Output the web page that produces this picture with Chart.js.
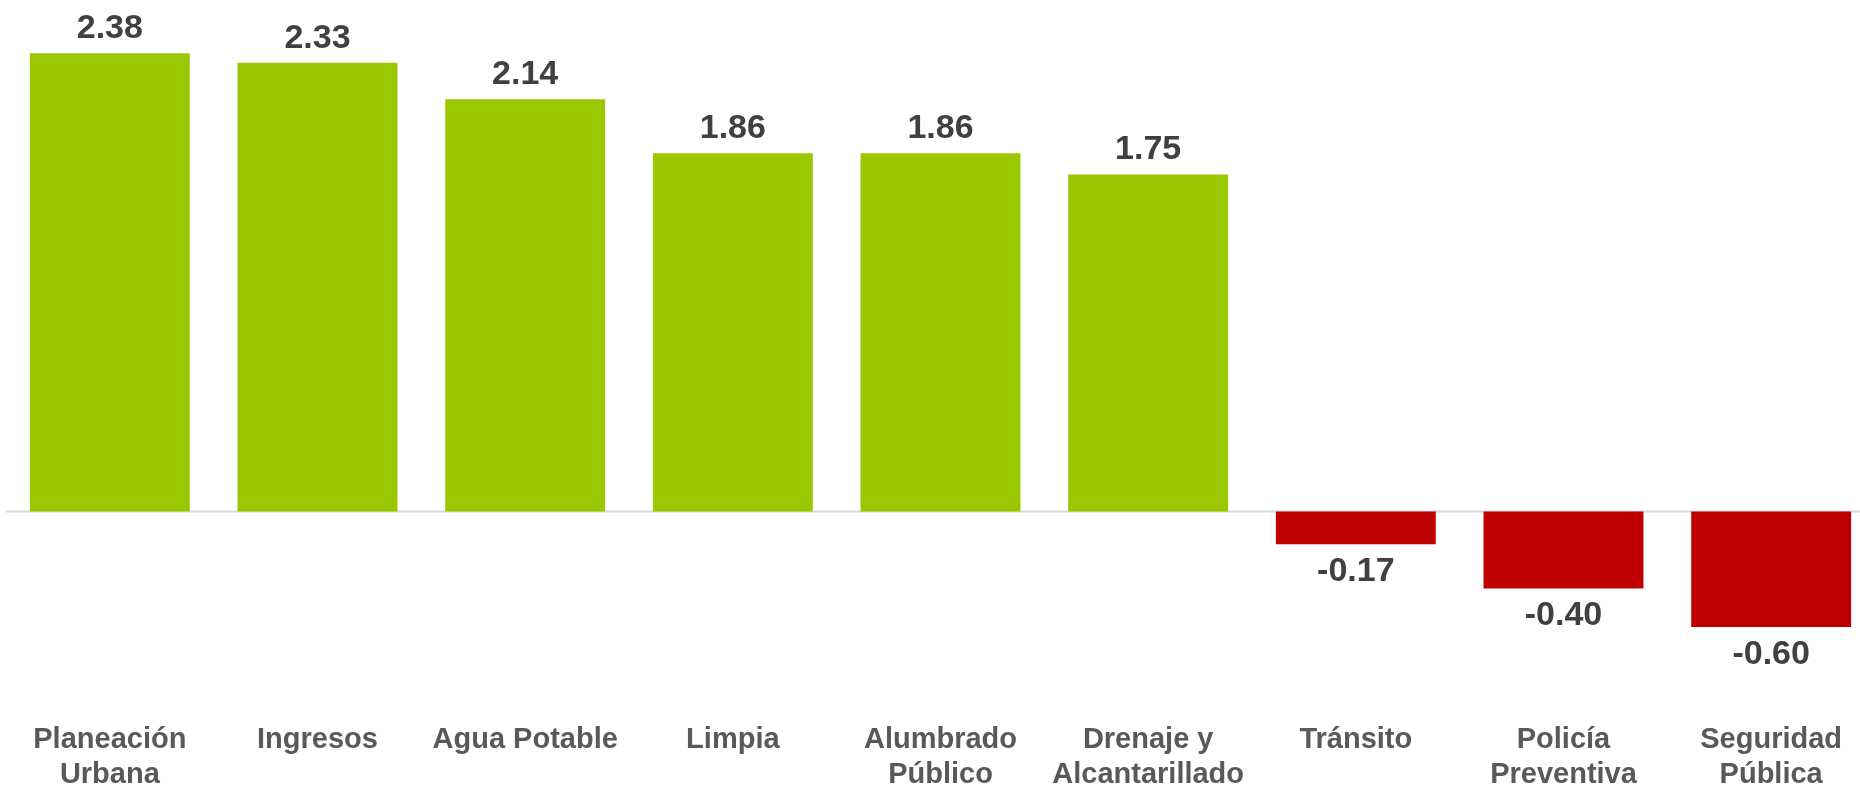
<html lang="es">
<head>
    <meta charset="UTF-8">
    <title>Indicadores</title>
    <style>
        html, body { margin: 0; padding: 0; background: #fff; overflow: hidden; }
        #wrap { position: absolute; left: 0; top: 0; width: 1881px; height: 811px; }
    </style>
    <script src="https://cdn.jsdelivr.net/npm/chart.js"></script>
</head>
<body>
    <div id="wrap"><canvas id="viz"></canvas></div>
    <script>
        const categories = [
            ['Planeación', 'Urbana'],
            'Ingresos',
            'Agua Potable',
            'Limpia',
            ['Alumbrado', 'Público'],
            ['Drenaje y', 'Alcantarillado'],
            'Tránsito',
            ['Policía', 'Preventiva'],
            ['Seguridad', 'Pública']
        ]
        const values = [2.38, 2.33, 2.14, 1.86, 1.86, 1.75, -0.17, -0.40, -0.60]

        const green = '#99C800'
        const red = '#C00000'
        const fontFamily = "'Liberation Sans', Arial, sans-serif"

        // value labels above / below each bar
        const valueLabels = {
            id: 'valueLabels',
            afterDatasetsDraw(chart) {
                const ctx = chart.ctx
                const meta = chart.getDatasetMeta(0)
                ctx.save()
                ctx.font = `bold 34px ${fontFamily}`
                ctx.fillStyle = '#404040'
                ctx.textAlign = 'center'
                ctx.textBaseline = 'alphabetic'
                meta.data.forEach((bar, i) => {
                    const v = values[i]
                    const y = v >= 0 ? bar.y - 15 : bar.y + 37
                    ctx.fillText(v.toFixed(2), bar.x, y)
                })
                ctx.restore()
            }
        }

        // thin gray line at zero
        const zeroLine = {
            id: 'zeroLine',
            beforeDatasetsDraw(chart) {
                const ctx = chart.ctx
                const y = chart.scales.y.getPixelForValue(0)
                ctx.save()
                ctx.strokeStyle = '#D9D9D9'
                ctx.lineWidth = 2
                ctx.beginPath()
                ctx.moveTo(chart.chartArea.left, y)
                ctx.lineTo(chart.width, y)
                ctx.stroke()
                ctx.restore()
            }
        }

        new Chart(document.getElementById('viz'), {
            type: 'bar',
            data: {
                labels: categories,
                datasets: [{
                    data: values,
                    backgroundColor: values.map(v => v >= 0 ? green : red),
                    borderWidth: 0,
                    categoryPercentage: 1,
                    barPercentage: 0.77
                }]
            },
            options: {
                responsive: true,
                maintainAspectRatio: false,
                animation: false,
                devicePixelRatio: 1,
                layout: { padding: { left: 6, right: 6, top: 10.8, bottom: 0 } },
                plugins: {
                    legend: { display: false },
                    tooltip: { enabled: false }
                },
                scales: {
                    x: {
                        grid: { display: false, drawTicks: false },
                        border: { display: false },
                        ticks: {
                            color: '#595959',
                            padding: 19,
                            maxRotation: 0,
                            autoSkip: false,
                            font: { family: fontFamily, size: 29, weight: 'bold', lineHeight: 1.19 }
                        }
                    },
                    y: {
                        display: false,
                        min: -1,
                        max: 2.6
                    }
                }
            },
            plugins: [zeroLine, valueLabels]
        })
    </script>
</body>
</html>
